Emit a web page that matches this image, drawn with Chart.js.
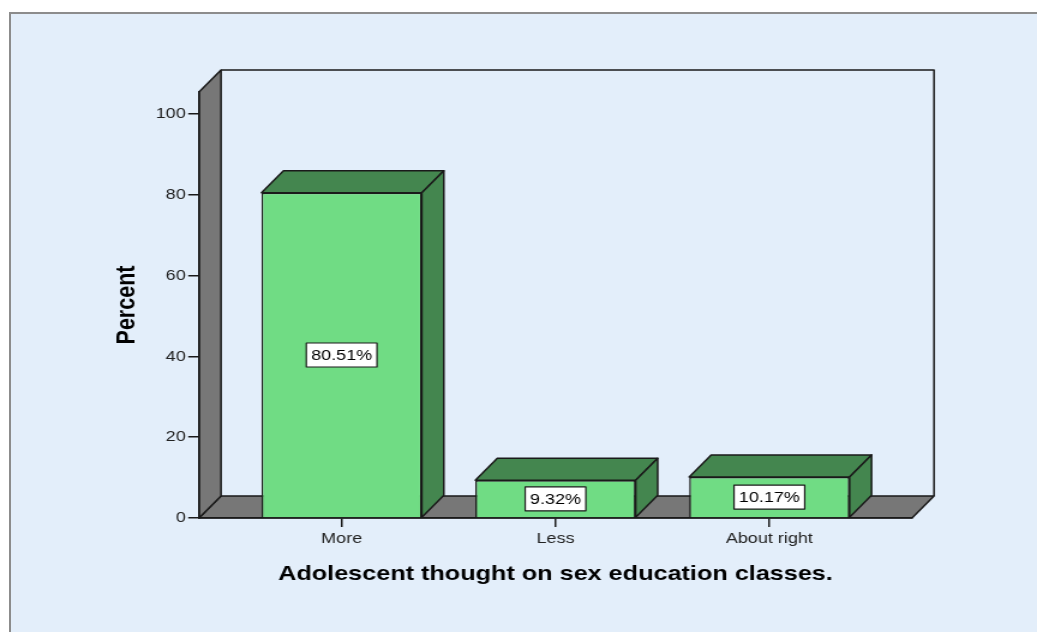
<!DOCTYPE html>
<html>
<head>
<meta charset="utf-8">
<script src="https://cdn.jsdelivr.net/npm/chart.js@4.4.1/dist/chart.umd.min.js"></script>
<style>
html, body { margin: 0; padding: 0; background: #fff; overflow: hidden; }
#frame {
    position: absolute; left: 9px; top: 12px; width: 1028px; height: 620px;
    box-sizing: border-box; background: #e3eefa;
    border-top: 2px solid #8c8c8c; border-left: 2px solid #8c8c8c;
}
#wrap { position: absolute; left: 0; top: 0; width: 864px; height: 632px; transform-origin: 0 0; }
</style>
</head>
<body>
<div id="frame"></div>
<div id="wrap"><canvas id="chart" width="864" height="632"></canvas></div>
<script>
const categories = ["More", "Less", "About right"];
const percents = [80.51, 9.32, 10.17];
const yTicks = [0, 20, 40, 60, 80, 100];
const xTitle = "Adolescent thought on sex education classes.";
const yTitle = "Percent";

// the original image is stretched sideways, so draw narrow and scale x on the page
const SX = 1037 / 864;
document.getElementById("wrap").style.transform = `scaleX(${SX})`;

const DX = 22 / SX;   // 3d depth
const DY = 22;
const FRONT = "#70dc84";
const SHADE = "#44864f";
const WALL = "#777777";
const EDGE = "#1a1a1a";
const FONT = "'Liberation Sans', Arial, sans-serif";

function poly(ctx, pts, fill) {
    ctx.beginPath();
    ctx.moveTo(pts[0][0], pts[0][1]);
    for (let i = 1; i < pts.length; i++) ctx.lineTo(pts[i][0], pts[i][1]);
    ctx.closePath();
    ctx.fillStyle = fill;
    ctx.fill();
    ctx.stroke();
}

//walls, floor and the extra faces of the bars
const box3d = {
    id: "box3d",
    beforeDraw(chart) {
        const { ctx, chartArea: a } = chart;
        ctx.save();
        ctx.lineWidth = 1.5;
        ctx.strokeStyle = EDGE;
        ctx.lineJoin = "round";
        poly(ctx, [[a.left, a.bottom], [a.right, a.bottom], [a.right + DX, a.bottom - DY], [a.left + DX, a.bottom - DY]], WALL);
        poly(ctx, [[a.left, a.bottom], [a.left, a.top], [a.left + DX, a.top - DY], [a.left + DX, a.bottom - DY]], WALL);
        ctx.beginPath();
        ctx.moveTo(a.left + DX, a.top - DY);
        ctx.lineTo(a.right + DX, a.top - DY);
        ctx.lineTo(a.right + DX, a.bottom - DY);
        ctx.stroke();
        ctx.restore();
    },
    afterDatasetsDraw(chart) {
        const { ctx } = chart;
        const meta = chart.getDatasetMeta(0);
        ctx.save();
        ctx.lineWidth = 1.5;
        ctx.strokeStyle = EDGE;
        ctx.lineJoin = "round";
        meta.data.forEach((bar, i) => {
            const { x, y, base, width } = bar.getProps(["x", "y", "base", "width"], true);
            const l = x - width / 2, r = x + width / 2;
            poly(ctx, [[l, y], [l + DX, y - DY], [r + DX, y - DY], [r, y]], SHADE);
            poly(ctx, [[r, y], [r + DX, y - DY], [r + DX, base - DY], [r, base]], SHADE);

            // value label in a white box
            const txt = percents[i].toFixed(2) + "%";
            ctx.font = "15px " + FONT;
            const w = ctx.measureText(txt).width + 8;
            const h = 24;
            const cy = (y + base) / 2;
            ctx.fillStyle = "#fff";
            ctx.fillRect(x - w / 2, cy - h / 2, w, h);
            ctx.lineWidth = 1.2;
            ctx.strokeRect(x - w / 2, cy - h / 2, w, h);
            ctx.lineWidth = 1.5;
            ctx.fillStyle = "#000";
            ctx.textAlign = "center";
            ctx.textBaseline = "middle";
            ctx.fillText(txt, x, cy + 1);
        });
        ctx.restore();
    }
};

new Chart(document.getElementById("chart"), {
    type: "bar",
    data: {
        datasets: [{
            data: categories.map((c, i) => ({ x: i, y: percents[i] })),
            backgroundColor: FRONT,
            borderColor: EDGE,
            borderWidth: 1.5,
            barPercentage: 0.75,
            categoryPercentage: 1
        }]
    },
    options: {
        responsive: false,
        animation: false,
        devicePixelRatio: 1,
        layout: { padding: { top: 92, right: 864 - 912 / SX, bottom: 0, left: 0 } },
        plugins: { legend: { display: false }, tooltip: { enabled: false } },
        scales: {
            x: {
                type: "linear",
                offset: false,
                min: -0.667,
                max: 2.667,
                afterBuildTicks: s => { s.ticks = categories.map((c, i) => ({ value: i })); },
                afterFit: s => { s.height = 632 - 518; },
                ticks: {
                    callback: v => categories[v],
                    color: "#222",
                    font: { family: FONT, size: 15 },
                    padding: 3,
                    maxRotation: 0,
                    autoSkip: false
                },
                grid: { offset: false, drawOnChartArea: false, tickLength: 9, color: EDGE, lineWidth: 1.5 },
                border: { color: EDGE, width: 1.5 },
                title: {
                    display: true, text: xTitle, color: "#000",
                    font: { family: FONT, size: 21, weight: "bold" },
                    padding: { top: 0, bottom: 45 }
                }
            },
            y: {
                min: 0,
                max: 105.45,
                afterBuildTicks: s => { s.ticks = yTicks.map(v => ({ value: v })); },
                afterFit: s => { s.width = 199 / SX; },
                ticks: { color: "#222", font: { family: FONT, size: 15 }, padding: 2 },
                grid: { drawOnChartArea: false, tickLength: 9, color: EDGE, lineWidth: 1.5 },
                border: { color: EDGE, width: 1.5 },
                title: {
                    display: true, text: yTitle, color: "#000",
                    font: { family: FONT, size: 21.5, weight: "bold" },
                    padding: { top: 93, bottom: 0 }
                }
            }
        }
    },
    plugins: [box3d]
});
</script>
</body>
</html>
